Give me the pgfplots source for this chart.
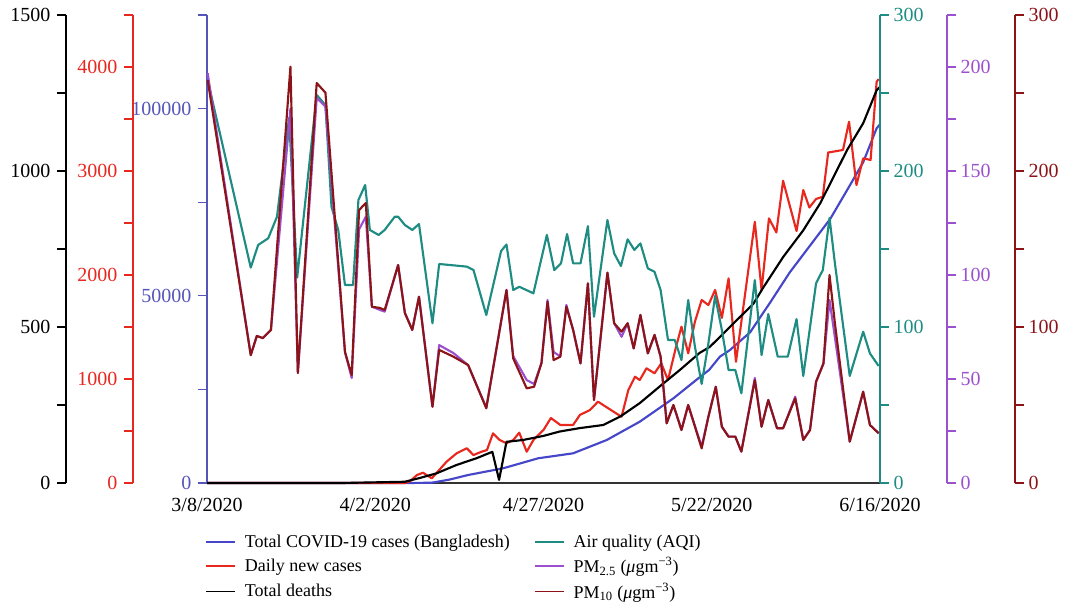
\documentclass[border=0pt]{standalone}
\usepackage{pgfplots}
\pgfplotsset{compat=1.18}
\usepackage{fontspec}
\setmainfont{Liberation Serif}
\definecolor{cblue}{RGB}{70,70,200}
\definecolor{cblueax}{RGB}{85,85,185}
\definecolor{cred}{RGB}{232,40,30}
\definecolor{cteal}{RGB}{30,140,130}
\definecolor{cpurple}{RGB}{155,80,205}
\definecolor{cdred}{RGB}{140,20,25}
\begin{document}
\begin{tikzpicture}
\useasboundingbox (-155.25pt,-93.75pt) rectangle (645pt,362.25pt);
\pgfplotsset{
  base/.style={width=504.75pt,height=351pt,scale only axis,xmin=0,xmax=100,ymin=0,
    /pgf/number format/fixed,/pgf/number format/precision=0,
    /pgf/number format/assume math mode=true,/pgf/number format/1000 sep={},scaled y ticks=false,scaled x ticks=false,
    tick align=outside,major tick length=6.75pt,minor tick length=6.75pt,
    tick label style={font=\fontsize{15}{17}\selectfont},clip=false},
  dline/.style={line width=1.6pt,line join=round},
  yax/.style={axis line style={#1,line width=1pt,-},tick style={#1,line width=1pt},yticklabel style={text=#1}},
  lefty/.style={yticklabel style={xshift=-1.5pt}},
}
% total cases (blue, left axis at plot edge)
\begin{axis}[base,ymax=125000,axis y line*=left,axis x line*=bottom,yax=cblueax,lefty,
  ytick={0,50000,100000},minor ytick={25000,75000,125000},
  yticklabels={0,50000,100000},
  xtick={0,25,50,75,100},xticklabels={3/8/2020,4/2/2020,4/27/2020,5/22/2020,6/16/2020},
  xticklabel style={yshift=-1pt},
  x axis line style={black!80,line width=1pt,-},xtick style={draw=none},
  legend columns=2,legend cell align=left,
  legend style={at={(-0.009,-0.099)},anchor=north west,draw=none,fill=none,
    font=\fontsize{13.5}{16}\selectfont,
    /tikz/every odd column/.append style={column sep=4.5pt},
    /tikz/every even column/.append style={column sep=16pt},row sep=2pt},
  legend image code/.code={\draw[#1,line width=1.2pt] (0pt,0pt) -- (22pt,0pt);}]
\addplot[cblue,dline] coordinates {(0,0) (30,0) (33.4,80) (36,900) (38.8,2137) (44.0,3926) (49.2,6600) (54.4,7933) (59.4,11486) (64.3,16374) (69.3,22616) (73.3,28390) (74.6,30180) (76.2,33733) (77.7,35511) (80.7,40257) (83.7,48270) (86.6,56283) (89.6,63404) (92.6,70527) (95.5,79430) (97.5,85663) (99.5,94745) (100,95800)};
\addlegendentry{Total COVID-19 cases (Bangladesh)}
\addlegendimage{cteal}\addlegendentry{Air quality (AQI)}
\addlegendimage{cred}\addlegendentry{Daily new cases}
\addlegendimage{cpurple}\addlegendentry{PM\textsubscript{2.5} (\textit{μ}gm\textsuperscript{−3})}
\addlegendimage{black}\addlegendentry{Total deaths}
\addlegendimage{cdred}\addlegendentry{PM\textsubscript{10} (\textit{μ}gm\textsuperscript{−3})}
\end{axis}
% daily new cases
\begin{axis}[base,ymax=4500,hide axis]
\addplot[cred,dline] coordinates {(0,0) (29.4,0) (30.2,19) (31.2,77) (32.1,99) (33.4,45) (35.6,205) (37.1,286) (38.6,334) (39.6,269) (40.8,301) (41.6,317) (42.5,478) (43.5,413) (44.5,382) (45.5,413) (46.4,484) (47.5,301) (48.5,413) (50.0,510) (51.1,625) (52.5,558) (54.4,558) (55.4,654) (56.9,702) (58.1,782) (59.1,740) (60.4,686) (61.6,637) (62.6,894) (63.6,1022) (64.3,990) (65.3,1103) (66.5,1055) (67.5,1151) (68.5,990) (69.7,1311) (70.5,1503) (71.5,1247) (72.5,1551) (73.5,1760) (74.5,1711) (75.5,1856) (76.5,1587) (77.5,1968) (78.6,1166) (81.4,2512) (82.4,1856) (83.5,2545) (84.6,2409) (85.6,2906) (87.6,2423) (88.6,2817) (89.5,2649) (90.5,2731) (91.5,2753) (92.3,3178) (94.5,3202) (95.4,3474) (96.5,2865) (97.5,3122) (98.6,3106) (99.5,3858) (99.8,3884)};
\end{axis}
% total deaths
\begin{axis}[base,ymax=1500,hide axis]
\addplot[black,dline] coordinates {(0,0) (20,0) (29.4,4) (31.6,16) (34.1,31) (37.1,58) (40.0,79) (42.4,100) (43.4,10) (44.5,132) (47.0,138) (50.0,151) (52.4,165) (55.4,176) (58.9,186) (61.4,213) (64.3,256) (67.3,310) (70.3,363) (73.2,417) (74.7,436) (77.7,500) (81.2,575) (82.7,628) (85.6,724) (88.6,810) (91.1,896) (93.1,981) (95.1,1067) (97.5,1153) (99.5,1259) (100,1270)};
\end{axis}
% AQI (teal, right axis at plot edge)
\begin{axis}[base,ymax=300,hide x axis,axis y line*=right,yax=cteal,
  ytick={0,100,200,300},minor ytick={50,150,250}]
\addplot[cteal,dline] coordinates {(0.1,258.3) (6.5,138.1) (7.6,152.6) (9.1,156.9) (10.4,170.7) (12.2,234.0) (13.4,131.7) (16.3,248.7) (17.6,242.3) (18.5,177.1) (19.5,162.2) (20.5,126.9) (21.7,126.9) (22.5,181.4) (23.5,191.0) (24.2,162.2) (25.5,159.0) (26.4,162.2) (27.9,170.7) (28.4,170.7) (29.4,165.4) (30.5,162.2) (31.5,166.0) (33.5,102.4) (34.5,140.4) (38.6,138.7) (39.6,136.5) (41.5,107.7) (43.7,148.7) (44.5,152.9) (45.5,123.7) (46.4,125.8) (48.5,121.6) (50.5,159.0) (51.6,136.5) (52.6,140.8) (53.5,159.6) (54.4,140.8) (55.5,140.8) (56.6,164.7) (57.5,106.6) (59.5,168.6) (60.5,147.2) (61.5,139.1) (62.5,156.2) (63.5,149.4) (64.4,153.6) (65.5,137.6) (66.5,135.4) (67.4,123.7) (68.5,91.7) (69.5,91.7) (70.5,78.8) (71.5,117.3) (72.5,87.4) (73.5,63.5) (74.5,89.5) (75.5,119.9) (76.5,98.1) (77.5,72.4) (78.5,72.4) (79.4,57.5) (81.4,130.1) (82.4,82.0) (83.4,108.3) (84.8,81.0) (86.3,81.0) (87.6,105.1) (88.6,68.6) (90.5,128.0) (91.5,136.5) (92.5,169.9) (93.3,140.8) (95.5,68.6) (97.5,97.0) (98.5,83.1) (99.8,75.0)};
\end{axis}
% PM2.5
\begin{axis}[base,ymax=225,hide axis]
\addplot[cpurple,dline] coordinates {(0.1,197) (6.5,61.5) (7.4,70.7) (8.3,69.7) (9.5,73.6) (12.4,180) (13.5,52.9) (16.3,185.1) (17.6,181) (20.5,63) (21.5,50.5) (22.6,122) (23.6,128) (24.5,84.8) (25.7,83.2) (26.4,82.4) (28.4,104.8) (29.4,81.8) (30.5,73.6) (31.5,89.6) (33.5,36.7) (34.5,66.3) (36.6,62.5) (38.8,56.7) (41.5,36.2) (44.5,92.8) (45.5,61) (47.5,49.5) (48.6,47.6) (49.7,57.7) (50.6,88) (51.5,63) (52.5,60.8) (53.4,85.6) (54.4,73.6) (55.5,57.5) (56.6,96) (57.5,39.9) (59.5,101.1) (60.5,76.8) (61.6,70.3) (62.5,76.8) (63.4,64.7) (64.4,80.8) (65.5,62.3) (66.5,71.2) (67.4,60.8) (68.3,28.7) (69.3,37.5) (70.5,25.5) (71.5,37.5) (73.5,17.5) (74.5,31.9) (75.6,46.3) (76.5,27.1) (77.5,22.3) (78.5,22.3) (79.4,15.1) (81.4,50.5) (82.4,27.1) (83.4,39.9) (84.7,26.3) (85.6,26.3) (87.4,41.5) (88.6,20.7) (89.6,25.5) (90.5,48.7) (91.6,57.5) (92.5,88) (93.3,70) (95.5,19.9) (97.5,43.9) (98.5,27.9) (99.8,23.9)};
\end{axis}
% PM10
\begin{axis}[base,ymax=300,hide axis]
\addplot[cdred,dline] coordinates {(0.1,258.3) (6.5,82.0) (7.4,94.2) (8.3,92.9) (9.5,98.1) (12.4,266.9) (13.5,70.5) (16.3,256.4) (17.6,250.2) (20.5,84.0) (21.5,69.2) (22.6,175.0) (23.6,179.5) (24.5,113.0) (25.7,112.2) (26.4,110.9) (28.4,139.7) (29.4,109.0) (30.5,98.1) (31.5,119.4) (33.5,48.9) (34.5,85.3) (36.6,81.0) (38.8,75.6) (41.5,47.9) (44.5,123.7) (45.5,79.9) (47.5,60.7) (48.6,61.7) (49.7,76.9) (50.6,116.2) (51.5,78.8) (52.5,81.0) (53.4,113.0) (54.4,98.1) (55.5,76.7) (56.6,128.0) (57.5,53.2) (59.5,134.8) (60.5,102.4) (61.6,97.0) (62.5,102.4) (63.4,86.3) (64.4,107.7) (65.5,83.1) (66.5,94.9) (67.4,81.0) (68.3,38.3) (69.3,50.0) (70.5,34.0) (71.5,50.0) (73.5,22.2) (74.5,42.5) (75.6,61.7) (76.5,36.1) (77.5,29.7) (78.5,29.7) (79.4,20.1) (81.4,66.0) (82.4,36.1) (83.4,53.2) (84.7,35.1) (85.6,35.1) (87.4,54.3) (88.6,27.6) (89.6,34.0) (90.5,64.9) (91.6,76.7) (92.5,133.3) (93.3,102.4) (95.5,26.5) (97.5,58.5) (98.5,37.2) (99.8,31.9)};
\end{axis}
% offset axes
\begin{axis}[base,at={(-105.75pt,0pt)},ymax=1500,hide x axis,axis y line*=left,yax=black,lefty,
  ytick={0,500,1000,1500},minor ytick={250,750,1250}]
\end{axis}
\begin{axis}[base,at={(-55.5pt,0pt)},ymax=4500,hide x axis,axis y line*=left,yax=cred,lefty,
  ytick={0,1000,2000,3000,4000},minor ytick={500,1500,2500,3500,4500}]
\end{axis}
\begin{axis}[base,at={(50.25pt,0pt)},ymax=225,hide x axis,axis y line*=right,yax=cpurple,
  ytick={0,50,100,150,200},minor ytick={25,75,125,175,225}]
\end{axis}
\begin{axis}[base,at={(101.25pt,0pt)},ymax=300,hide x axis,axis y line*=right,yax=cdred,
  ytick={0,100,200,300},minor ytick={50,150,250}]
\end{axis}
\end{tikzpicture}
\end{document}
